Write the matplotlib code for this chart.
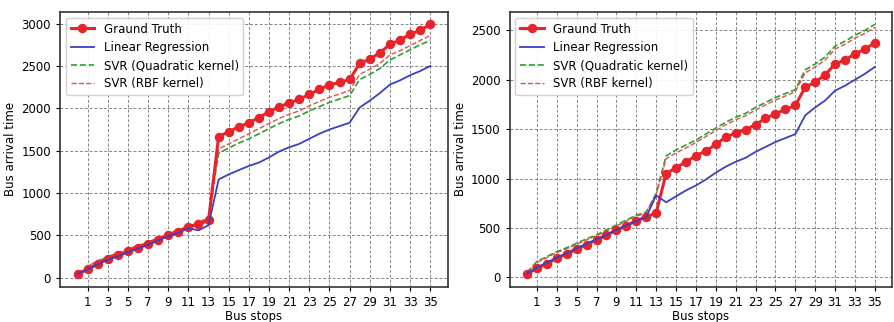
import numpy as np
import matplotlib
matplotlib.use('Agg')
import matplotlib.pyplot as plt

stops = list(range(0, 36))
xticks = list(range(1, 36, 2))

# left panel
gt_a = [40, 100, 165, 225, 265, 315, 355, 400, 450, 505, 545, 605, 630, 680,
        1665, 1725, 1780, 1830, 1890, 1960, 2015, 2065, 2105, 2165, 2225, 2275,
        2305, 2340, 2530, 2580, 2655, 2755, 2805, 2875, 2920, 2990]
lr_a = [45, 100, 160, 210, 255, 300, 345, 390, 440, 490, 530, 585, 560, 620,
        1160, 1220, 1270, 1320, 1360, 1420, 1490, 1540, 1580, 1640, 1700, 1750,
        1790, 1830, 2010, 2090, 2180, 2280, 2330, 2390, 2440, 2500]
quad_a = [50, 130, 195, 245, 290, 335, 375, 420, 465, 515, 560, 605, 640, 720,
          1470, 1530, 1590, 1640, 1700, 1760, 1820, 1870, 1910, 1970, 2020, 2070,
          2110, 2150, 2340, 2400, 2470, 2570, 2630, 2690, 2750, 2800]
rbf_a = [55, 135, 200, 250, 295, 340, 380, 425, 470, 520, 565, 610, 645, 725,
         1520, 1580, 1640, 1700, 1760, 1820, 1880, 1930, 1970, 2030, 2080, 2130,
         2170, 2210, 2400, 2460, 2530, 2630, 2680, 2740, 2800, 2860]

# right panel
gt_b = [30, 95, 135, 195, 235, 285, 330, 380, 425, 480, 520, 575, 610, 655,
        1050, 1110, 1170, 1230, 1280, 1345, 1420, 1460, 1495, 1545, 1610, 1655,
        1700, 1740, 1925, 1975, 2050, 2160, 2200, 2260, 2310, 2375]
lr_b = [40, 100, 150, 200, 245, 295, 340, 385, 430, 480, 525, 570, 610, 830,
        760, 820, 880, 930, 990, 1060, 1120, 1170, 1210, 1270, 1320, 1370,
        1410, 1450, 1640, 1720, 1790, 1890, 1940, 2000, 2060, 2130]
quad_b = [50, 160, 210, 260, 300, 345, 390, 430, 480, 530, 580, 630, 660, 850,
          1230, 1290, 1340, 1390, 1450, 1510, 1570, 1620, 1660, 1720, 1770, 1820,
          1860, 1900, 2100, 2160, 2230, 2340, 2390, 2450, 2500, 2560]
rbf_b = [45, 150, 200, 250, 290, 335, 380, 420, 470, 520, 570, 620, 650, 840,
         1200, 1260, 1310, 1365, 1425, 1485, 1545, 1595, 1635, 1695, 1745, 1795,
         1835, 1880, 2070, 2130, 2200, 2310, 2360, 2420, 2470, 2530]

labels = ['Graund Truth', 'Linear Regression', 'SVR (Quadratic kernel)', 'SVR (RBF kernel)']

fig = plt.figure(figsize=(8.94, 3.22), dpi=100)
ax1 = fig.add_axes([0.067, 0.109, 0.434, 0.854])
ax2 = fig.add_axes([0.570, 0.109, 0.428, 0.854])

for ax, gt, lr, quad, rbf, yt in [(ax1, gt_a, lr_a, quad_a, rbf_a, range(0, 3001, 500)),
                                  (ax2, gt_b, lr_b, quad_b, rbf_b, range(0, 2501, 500))]:
    ax.plot(stops, gt, color='#e8232a', marker='o', markersize=5.8, linewidth=2.2, label=labels[0], zorder=3)
    ax.plot(stops, lr, color='#3a40c0', linewidth=1.3, label=labels[1], zorder=4)
    ax.plot(stops, quad, color='#2ca02c', linestyle='--', linewidth=1.2, label=labels[2], zorder=2)
    ax.plot(stops, rbf, color='#d9534f', linestyle='--', linewidth=1.0, label=labels[3], zorder=2)
    ax.set_xticks(xticks)
    ax.set_yticks(list(yt))
    ax.tick_params(labelsize=8.5, length=3)
    ax.grid(True, linestyle=(0, (3, 2)), color='#666666', linewidth=0.7, alpha=0.8)
    ax.set_xlabel('Bus stops', fontsize=8.5, labelpad=1)
    ax.set_ylabel('Bus arrival time', fontsize=8.5, labelpad=3)
    for s in ax.spines.values():
        s.set_color('#333333')
        s.set_linewidth(1.2)
    ax.legend(loc='upper left', fontsize=8.5, framealpha=0.9, handlelength=2.0,
              borderpad=0.4, labelspacing=0.45)

fig.savefig('out.png', dpi=100)
